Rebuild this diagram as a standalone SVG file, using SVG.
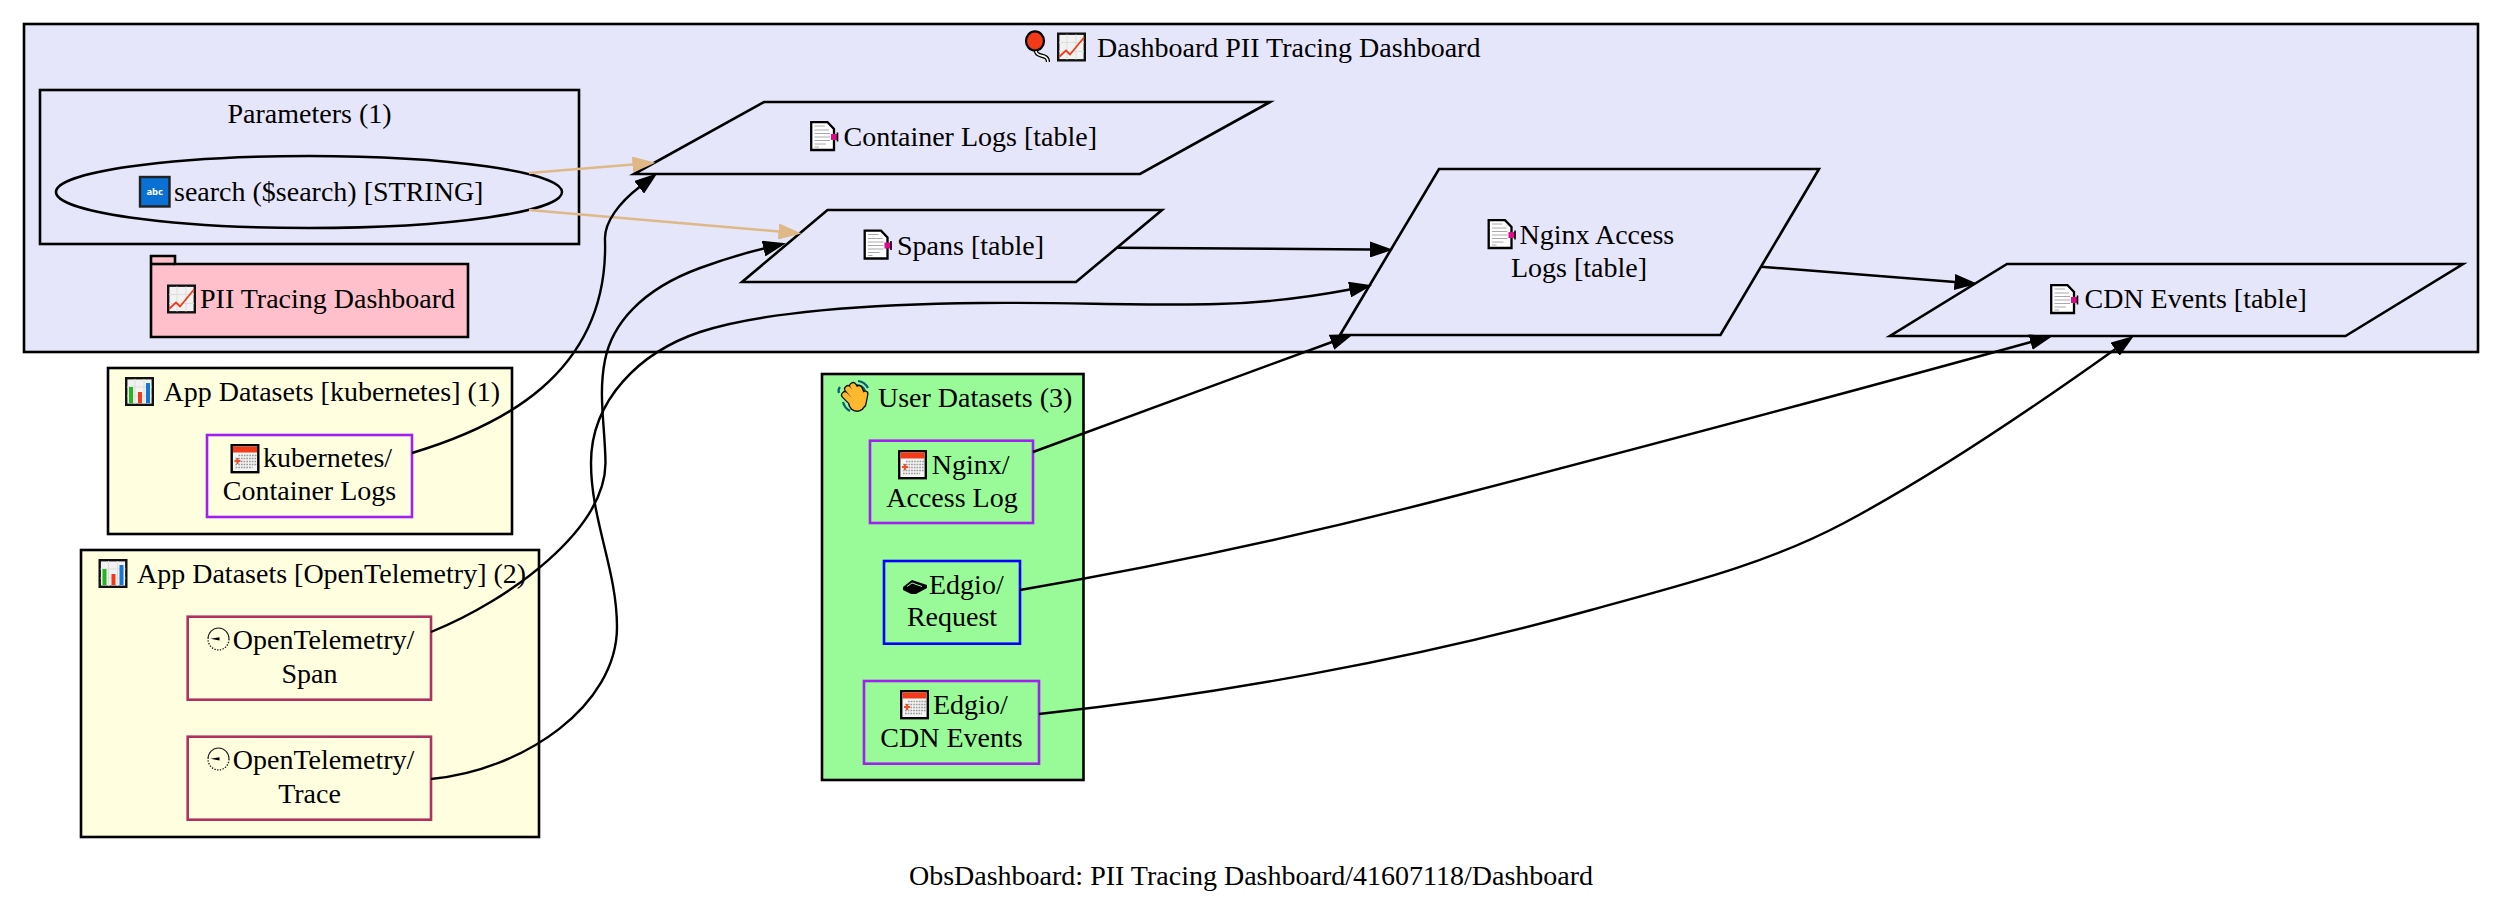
<svg xmlns="http://www.w3.org/2000/svg" width="2502" height="910" viewBox="0 0 2502 910">
<style>
text{font-family:"Liberation Serif","Times New Roman",serif;font-size:28px;fill:#000}
.b{stroke:#000;stroke-width:2.6;fill:none}
.c{stroke:#000;stroke-width:2.6}
.e{fill:none;stroke:#000;stroke-width:2.4;marker-end:url(#ah)}
.p{fill:none;stroke:#deb887;stroke-width:2.6;marker-end:url(#at)}
.m{text-anchor:middle}
</style>
<defs>
<marker id="ah" markerUnits="userSpaceOnUse" viewBox="0 0 23 16" refX="0.5" refY="8" markerWidth="23" markerHeight="16" orient="auto"><path d="M0,0L23,8L0,16Z" fill="#000"/></marker>
<marker id="at" markerUnits="userSpaceOnUse" viewBox="0 0 23 16" refX="0.5" refY="8" markerWidth="23" markerHeight="16" orient="auto"><path d="M0,0L23,8L0,16Z" fill="#deb887"/></marker>
<g id="doc"><path d="M1.2,1.2H17.5L24,8V29H1.2Z" fill="#fff" stroke="#000" stroke-width="2.3"/><path d="M4.5,5H15M4.5,9H19M4.5,12.5H20M4.5,16H20M4.5,19.5H20M4.5,23H16M4.5,26H9" stroke="#aaa" stroke-width="1"/><rect x="21" y="13" width="7" height="6" fill="#e0088c"/><path d="M27.5,11.5V20.5" stroke="#000" stroke-width="1.6"/></g>
<g id="cal"><rect x="1.2" y="1.2" width="26.6" height="27" fill="#f4f4f4" stroke="#000" stroke-width="2.4"/><rect x="2.5" y="2.5" width="24" height="6" fill="#f23a18"/><path d="M8,11.500H26M5,14.500H26M5,17.500H26M5,20.500H26M5,23.500H22" stroke="#999" stroke-width="1.6" stroke-dasharray="1.7,1"/><path d="M4,17H10M7,14V20" stroke="#f0502c" stroke-width="2"/></g>
<g id="clk"><path d="M1.5,12A10.500,11 0 0 1 22.500,12" fill="none" stroke="#222" stroke-width="1.1"/><path d="M22.500,12A10.500,11 0 0 1 1.500,12" fill="none" stroke="#222" stroke-width="1.4" stroke-dasharray="1.4,1.4"/><path d="M4,11.800L13,10.200V13.400Z" fill="#000"/></g>
<g id="line"><rect x="1.2" y="1.2" width="26.6" height="26.6" fill="#f2f2f2" stroke="#111" stroke-width="2.4"/><path d="M10,2V27M19,2V27M2,10H27M2,19H27" stroke="#ddd" stroke-width="1"/><path d="M2.500,24L9,18L13,22L27,5" fill="none" stroke="#f23a18" stroke-width="1.8"/></g>
<g id="bar"><rect x="1.2" y="1.2" width="26.6" height="26.6" fill="#f2f2f2" stroke="#111" stroke-width="2.4"/><path d="M10,2V27M19,2V27M2,10H27M2,19H27" stroke="#ddd" stroke-width="1"/><rect x="4" y="10" width="4" height="16" fill="#22b81c"/><rect x="13" y="15" width="4" height="11" fill="#f23a18"/><rect x="21" y="6" width="4" height="20" fill="#1478d8"/></g>
</defs>
<g id="cluster-dashboard"><rect x="24" y="24" width="2454" height="328" fill="#e6e6fa" class="c"/>
<ellipse cx="1035" cy="41" rx="9" ry="9.600" fill="#f23a18" stroke="#000" stroke-width="2.2"/>
<path d="M1036,51C1036,58 1048,53 1048,62" fill="none" stroke="#000" stroke-width="4.2"/><path d="M1036,51C1036,58 1048,53 1048,62" fill="none" stroke="#fff" stroke-width="1.6"/>
<use href="#line" x="1057" y="32.500"/>
<text x="1097" y="57">Dashboard PII Tracing Dashboard</text></g>
<g id="cluster-parameters"><rect x="40" y="90" width="539" height="154" class="b"/><text x="227.500" y="123">Parameters (1)</text></g>
<g id="node-search"><ellipse cx="309" cy="192" rx="253" ry="36" class="b"/><rect x="140" y="177" width="29.500" height="29.500" fill="#0a70d4" stroke="#222" stroke-width="2.4"/><text x="154.700" y="195" class="m" style="font-family:'Noto Sans',sans-serif;font-size:9.500px;font-weight:700;fill:#fff">abc</text><text x="174" y="201">search ($search) [STRING]</text></g>
<g id="node-dashboard"><path d="M151,337V256H175V264H468V337Z" fill="#ffc0cb" class="c"/><path d="M151,264H175" class="b"/><use href="#line" x="167" y="284.500"/><text x="200" y="308">PII Tracing Dashboard</text></g>
<g id="node-container-logs"><path d="M764,102H1270L1140,174H634Z" class="b"/><use href="#doc" x="810" y="121"/><text x="843.500" y="146">Container Logs [table]</text></g>
<g id="node-spans"><path d="M827.500,210H1162L1076,282H742Z" class="b"/><use href="#doc" x="863.500" y="229.500"/><text x="897" y="255">Spans [table]</text></g>
<g id="node-nginx"><path d="M1439,169H1819L1720.500,335H1340Z" class="b"/><use href="#doc" x="1487.500" y="219"/><text x="1519.500" y="244">Nginx Access</text><text x="1579" y="277" class="m">Logs [table]</text></g>
<g id="node-cdn"><path d="M2007,264H2463L2345.500,336H1890Z" class="b"/><use href="#doc" x="2050" y="284"/><text x="2084.500" y="308">CDN Events [table]</text></g>
<g id="cluster-kubernetes"><rect x="108" y="368" width="404" height="166" fill="#ffffe0" class="c"/><use href="#bar" x="125" y="377"/><text x="163.500" y="401">App Datasets [kubernetes] (1)</text></g>
<g id="ds-kubernetes"><rect x="207" y="435" width="205" height="82" fill="none" stroke="#a020f0" stroke-width="2.6"/><use href="#cal" x="230.500" y="444"/><text x="263" y="467">kubernetes/</text><text x="309.500" y="500" class="m">Container Logs</text></g>
<g id="cluster-otel"><rect x="81" y="550" width="458" height="287" fill="#ffffe0" class="c"/><use href="#bar" x="98.500" y="559"/><text x="137" y="583">App Datasets [OpenTelemetry] (2)</text></g>
<g id="ds-span"><rect x="187.700" y="616.700" width="243.300" height="83" fill="none" stroke="#b03060" stroke-width="2.6"/><use href="#clk" x="206.500" y="627"/><text x="232.800" y="649">OpenTelemetry/</text><text x="309.500" y="683" class="m">Span</text></g>
<g id="ds-trace"><rect x="187.700" y="736.700" width="243.300" height="83" fill="none" stroke="#b03060" stroke-width="2.6"/><use href="#clk" x="206.500" y="747"/><text x="232.800" y="769">OpenTelemetry/</text><text x="309.500" y="803" class="m">Trace</text></g>
<g id="cluster-user"><rect x="822" y="374" width="261.500" height="406" fill="#98fb98" class="c"/>
<path d="M840,387A6,6 0 0 0 839,393M843,402A14,14 0 0 0 850,411M856,385A9,9 0 0 1 865,391M858,381A13,13 0 0 1 868,388" fill="none" stroke="#0a5a78" stroke-width="2.2"/>
<g fill="none" stroke-linecap="round" stroke="#111" stroke-width="8"><path d="M845,395L853,403M848,389L857,400M853,386L860,397M859,389L862,396"/></g><ellipse cx="857" cy="403" rx="9" ry="9" fill="#111"/><path d="M863,404L865,394" stroke="#111" stroke-width="7" stroke-linecap="round"/>
<g fill="none" stroke-linecap="round" stroke="#fcb82e" stroke-width="5.400"><path d="M845,395L853,403M848,389L857,400M853,386L860,397M859,389L862,396"/></g><ellipse cx="857" cy="403" rx="7.500" ry="7.500" fill="#fcb82e"/><path d="M863,404L865,394" stroke="#fcb82e" stroke-width="4.400" stroke-linecap="round"/>
<text x="878" y="407">User Datasets (3)</text></g>
<g id="ds-nginx"><rect x="870" y="440.700" width="163" height="82.300" fill="none" stroke="#a020f0" stroke-width="2.6"/><use href="#cal" x="898" y="450"/><text x="931.700" y="474">Nginx/</text><text x="952" y="507" class="m">Access Log</text></g>
<g id="ds-request"><rect x="884" y="561" width="136" height="82.700" fill="none" stroke="#0000ff" stroke-width="2.6"/><path d="M903,587L912,580L927,585V588L916,594H911L903,590Z" fill="#000"/><path d="M907,586.500L912,583L922,586.500" fill="none" stroke="#98fb98" stroke-width="1"/><text x="929" y="594">Edgio/</text><text x="952" y="626" class="m">Request</text></g>
<g id="ds-cdn"><rect x="864" y="681" width="175" height="82.700" fill="none" stroke="#a020f0" stroke-width="2.6"/><use href="#cal" x="900" y="690"/><text x="933" y="714">Edgio/</text><text x="951.500" y="747" class="m">CDN Events</text></g>
<g id="edges">
<path class="p" d="M529,173L633,164.500"/>
<path class="p" d="M529,210L779,231.500"/>
<path class="e" d="M412,453C495,428 609,377 605,240C604,222 620,202 639.500,187"/>
<path class="e" d="M431,632C510,600 605,530 605.500,463C605,425 598,395 605,360C612,325 640,290 700,268C720,260.700 745,253 764,248.500"/>
<path class="e" d="M431,779C525,770 617,705 617,627C617,570 591,520 591,463C591,400 640,352 700,332C760,312 870,304 981,303C1060,302 1150,306 1217,304C1265,303 1310,297 1350,289.500"/>
<path class="e" d="M1118,247.700L1370.500,249.500"/>
<path class="e" d="M1761,266.700L1955,282"/>
<path class="e" d="M1033,452C1100,427 1250,372 1332,342"/>
<path class="e" d="M1020,590C1160,566 1305,535 1451,497C1645,446.500 1840,395 2031,342"/>
<path class="e" d="M1039,714C1215,695 1410,660 1591,610C1680,585.400 1765,565 1844,523C1925,480 2030,410 2115.500,349"/>
</g>
<text id="graph-label" x="1251" y="885" class="m">ObsDashboard: PII Tracing Dashboard/41607118/Dashboard</text>
</svg>
